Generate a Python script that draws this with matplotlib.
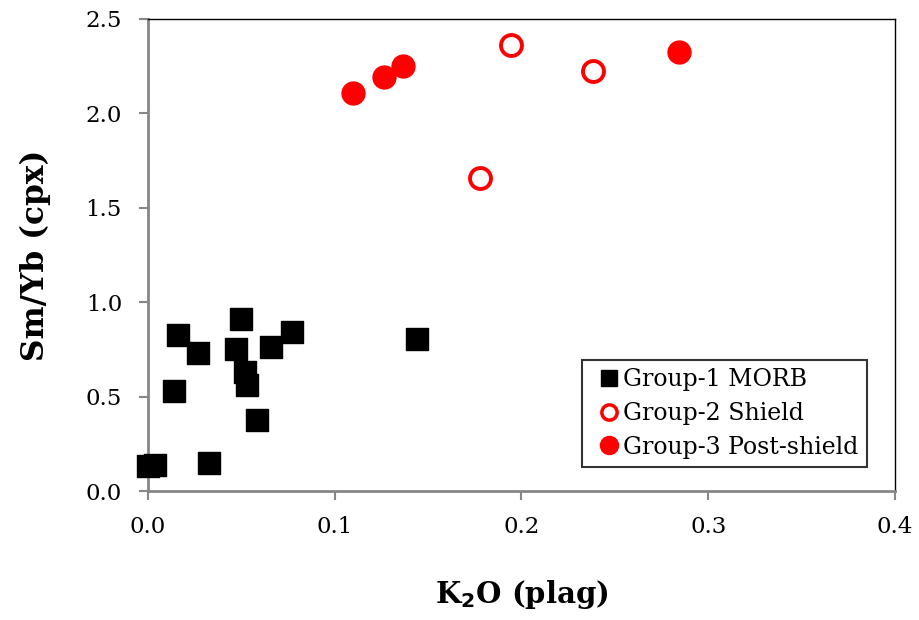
import matplotlib.pyplot as plt
from matplotlib.lines import Line2D

# Group-1 MORB
morb_x = [0.0161, 0.0267, 0.0500, 0.0471, 0.0770, 0.0660, 0.0521, 0.0534,
          0.0141, 0.0584, 0.1439, 0.0003, 0.0041, 0.0328]
morb_y = [0.829, 0.732, 0.914, 0.753, 0.843, 0.764, 0.632, 0.562,
          0.530, 0.379, 0.806, 0.134, 0.139, 0.148]

# Group-2 Shield (open circles)
shield_x = [0.1944, 0.2382, 0.1780]
shield_y = [2.361, 2.221, 1.655]

# Group-3 Post-shield (filled circles)
post_x = [0.1100, 0.1267, 0.1369, 0.2846]
post_y = [2.105, 2.193, 2.248, 2.325]

xticks = [0.0, 0.1, 0.2, 0.3, 0.4]
yticks = [0.0, 0.5, 1.0, 1.5, 2.0, 2.5]

plt.rcParams["font.family"] = ["DejaVu Serif"]

fig = plt.figure(figsize=(9.19, 6.2), dpi=100)
ax = fig.add_axes([0.1607, 0.2074, 0.8133, 0.7626])

ax.scatter(morb_x, morb_y, marker="s", s=266, color="black", zorder=3,
           clip_on=False)
ax.scatter(shield_x, shield_y, marker="o", s=228, facecolor="white",
           edgecolor="red", linewidth=2.8, zorder=3)
ax.scatter(post_x, post_y, marker="o", s=272, color="red", zorder=3)

ax.set_xlim(0, 0.4)
ax.set_ylim(0, 2.5)
ax.set_xticks(xticks)
ax.set_yticks(yticks)
ax.set_xticklabels([f"{v:.1f}" for v in xticks])
ax.set_yticklabels([f"{v:.1f}" for v in yticks])
ax.tick_params(direction="out", length=6.5, width=1.5, color="#868686",
               labelsize=16.5)
ax.tick_params(axis="x", pad=11)
ax.tick_params(axis="y", pad=12)

for side in ["left", "bottom"]:
    ax.spines[side].set_color("#868686")
    ax.spines[side].set_linewidth(2)
for side in ["top", "right"]:
    ax.spines[side].set_color("black")
    ax.spines[side].set_linewidth(1)

ax.set_xlabel("K$_\\mathbf{2}$O (plag)", fontsize=21, fontweight="bold", labelpad=29)
ax.set_ylabel("Sm/Yb (cpx)", fontsize=22.5, fontweight="bold", labelpad=25)

handles = [
    Line2D([], [], marker="s", ls="", color="black", markersize=12),
    Line2D([], [], marker="o", ls="", markerfacecolor="white",
           markeredgecolor="red", markeredgewidth=2.5, markersize=11),
    Line2D([], [], marker="o", ls="", color="red", markersize=13),
]
labels = ["Group-1 MORB", "Group-2 Shield", "Group-3 Post-shield"]
leg = ax.legend(handles, labels, loc="lower right", bbox_to_anchor=(0.962, 0.052),
                fontsize=17, frameon=True, fancybox=False, handlelength=1.6,
                handletextpad=-0.2, borderpad=0.35, labelspacing=0.45,
                borderaxespad=0)
leg.get_frame().set_edgecolor("black")
leg.get_frame().set_linewidth(1.5)

plt.savefig("out.png", dpi=100)
